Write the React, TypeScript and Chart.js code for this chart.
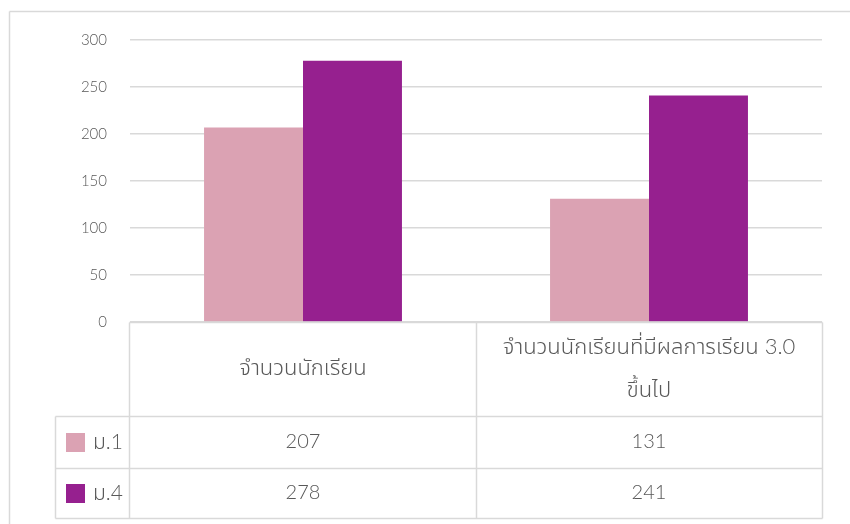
import React, { useEffect, useRef } from "react";
import { Chart, registerables } from "chart.js";

Chart.register(...registerables);

const categories: string[][] = [
  ["จำนวนนักเรียน"],
  ["จำนวนนักเรียนที่มีผลการเรียน 3.0", "ขึ้นไป"],
];
const seriesNames = ["ม.1", "ม.4"];
const m1Values = [207, 131];
const m4Values = [278, 241];
const yTicks = [0, 50, 100, 150, 200, 250, 300];

const PINK = "#dba2b3";
const PURPLE = "#96208f";
const GRID = "#d9d9d9";
const TEXT = "#595959";
const FONT = "Lato, 'Noto Sans Thai', 'Noto Sans', sans-serif";

const tablePlugin = {
  id: "dataTable",
  afterDraw(chart: any) {
    const ctx = chart.ctx as CanvasRenderingContext2D;
    const area = chart.chartArea;
    const xs = chart.scales.x;
    const top = Math.round(area.bottom);
    const headerBottom = top + 94;
    const row1Bottom = headerBottom + 52;
    const row2Bottom = row1Bottom + 50;
    const left = Math.round(area.left) - 1;
    const right = Math.round(area.right);
    const mid = Math.round((xs.getPixelForValue(0) + xs.getPixelForValue(1)) / 2);
    const legendLeft = 55;

    ctx.save();
    ctx.strokeStyle = GRID;
    ctx.lineWidth = 1.5;
    const line = (x1: number, y1: number, x2: number, y2: number) => {
      ctx.beginPath();
      ctx.moveTo(x1 + 0.5, y1 + 0.5);
      ctx.lineTo(x2 + 0.5, y2 + 0.5);
      ctx.stroke();
    };
    // outer chart border
    line(9, 11, 860, 11);
    line(9, 11, 9, 540);
    // table
    line(left, top, right, top);
    line(left, top, left, row2Bottom);
    line(mid, top, mid, row2Bottom);
    line(right, top, right, row2Bottom);
    line(legendLeft, headerBottom, right, headerBottom);
    line(legendLeft, row1Bottom, right, row1Bottom);
    line(legendLeft, row2Bottom, right, row2Bottom);
    line(legendLeft, headerBottom, legendLeft, row2Bottom);

    ctx.fillStyle = TEXT;
    ctx.textAlign = "center";
    ctx.textBaseline = "middle";
    ctx.font = `300 22px ${FONT}`;
    const headerMid = (top + headerBottom) / 2;
    categories.forEach((lines, i) => {
      const cx = xs.getPixelForValue(i);
      const lh = 43;
      const startY = headerMid - ((lines.length - 1) * lh) / 2 - 1;
      lines.forEach((t, j) => ctx.fillText(t, cx, startY + j * lh));
    });

    const rows = [m1Values, m4Values];
    const colors = [PINK, PURPLE];
    const rowTops = [headerBottom, row1Bottom];
    const rowBots = [row1Bottom, row2Bottom];
    rows.forEach((vals, r) => {
      const cy = (rowTops[r] + rowBots[r]) / 2;
      ctx.font = `300 20px ${FONT}`;
      vals.forEach((v, i) => {
        ctx.fillStyle = TEXT;
        ctx.textAlign = "center";
        ctx.fillText(String(v), xs.getPixelForValue(i), cy);
      });
      ctx.fillStyle = colors[r];
      ctx.fillRect(66, Math.round(cy) - 9, 19, 19);
      ctx.fillStyle = TEXT;
      ctx.textAlign = "left";
      ctx.font = `300 21px ${FONT}`;
      ctx.fillText(seriesNames[r], 93, cy);
    });
    ctx.restore();
  },
};

export default function App() {
  const ref = useRef<HTMLCanvasElement>(null);
  useEffect(() => {
    if (!ref.current) return;
    const chart = new Chart(ref.current, {
      type: "bar",
      data: {
        labels: categories.map((c) => c.join(" ")),
        datasets: [
          {
            label: seriesNames[0],
            data: m1Values,
            backgroundColor: PINK,
            categoryPercentage: 0.572,
            barPercentage: 1,
          },
          {
            label: seriesNames[1],
            data: m4Values,
            backgroundColor: PURPLE,
            categoryPercentage: 0.572,
            barPercentage: 1,
          },
        ],
      },
      options: {
        responsive: false,
        animation: false,
        devicePixelRatio: 1,
        layout: { padding: { left: 0, top: 40, right: 28, bottom: 202 } },
        plugins: { legend: { display: false }, tooltip: { enabled: false } },
        scales: {
          x: { display: false },
          y: {
            min: 0,
            max: 300,
            afterFit: (s: any) => {
              s.width = 130;
            },
            afterBuildTicks: (s: any) => {
              s.ticks = yTicks.map((v) => ({ value: v }));
            },
            border: { display: false },
            grid: { color: GRID, lineWidth: 1.5, drawTicks: false },
            ticks: {
              padding: 23,
              color: TEXT,
              font: { family: FONT, size: 15, weight: "300" },
            },
          },
        },
      },
      plugins: [tablePlugin],
    });
    return () => chart.destroy();
  }, []);
  return (
    <div style={{ position: "absolute", left: 0, top: 0, width: 850, height: 524, background: "#fff" }}>
      <canvas ref={ref} width={850} height={524} />
    </div>
  );
}
